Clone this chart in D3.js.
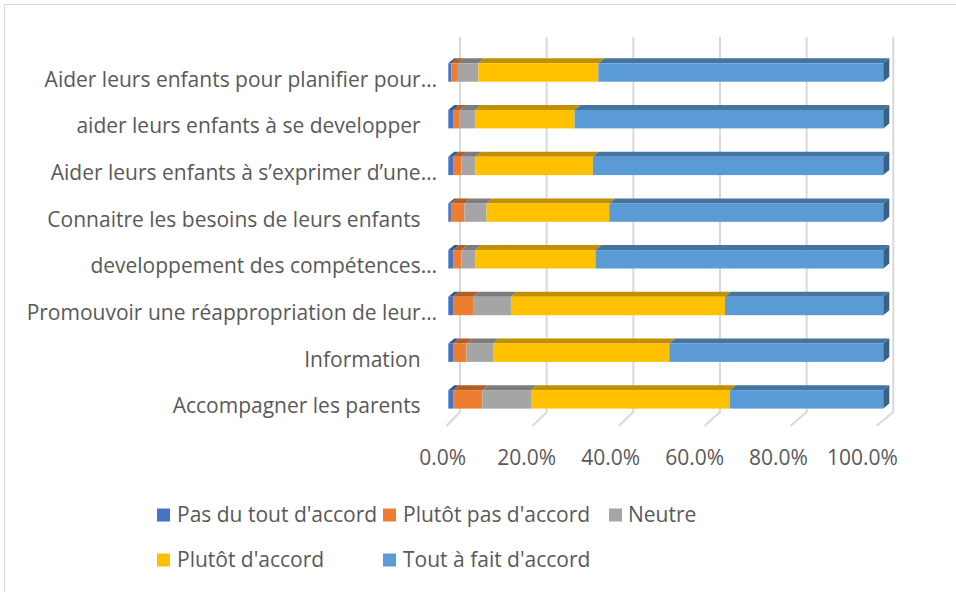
<!DOCTYPE html>
<html>
<head>
<meta charset="utf-8">
<script src="https://cdn.jsdelivr.net/npm/d3@7"></script>
<style>
  body { margin: 0; background: #fff; }
  svg text { font-family: "Open Sans", sans-serif; fill: #595959; }
</style>
</head>
<body>
<script>
// Data (Excel order: first category is drawn at the bottom)
const categories = [
  "Accompagner les parents   ",
  "Information   ",
  "Promouvoir une réappropriation de leur…",
  "developpement des compétences…",
  "Connaitre les besoins de leurs enfants   ",
  "Aider leurs enfants à s’exprimer d’une…",
  "aider leurs enfants à se developper   ",
  "Aider leurs enfants pour planifier pour…"
];
const seriesNames = ["Pas du tout d'accord", "Plutôt pas d'accord", "Neutre", "Plutôt d'accord", "Tout à fait d'accord"];
const pasDuTout    = [1.1, 1.1, 1.1, 1.1, 0.6, 1.1, 1.1, 0.7];
const plutotPas    = [6.7, 3.1, 4.6, 1.9, 3.1, 1.9, 1.5, 1.5];
const neutre       = [11.2, 6.1, 8.7, 3.2, 5.1, 3.2, 3.6, 4.7];
const plutotAccord = [45.7, 40.5, 49.2, 27.6, 28.2, 27.0, 22.8, 27.6];
const toutAFait    = [35.2, 49.2, 36.4, 66.1, 63.0, 66.7, 70.9, 65.5];
const colors = ["#4472C4", "#ED7D31", "#A5A5A5", "#FFC000", "#5B9BD5"];
const tickValues = [0, 0.2, 0.4, 0.6, 0.8, 1];

const width = 956, height = 592;
const depth = {dx: 6, dy: 5};
const barH = 18.4;
const fontSize = "21px";

const svg = d3.select("body").append("svg")
  .attr("width", width).attr("height", height);

// chart area border
svg.append("rect")
  .attr("x", 4.5).attr("y", 4.5).attr("width", 1000).attr("height", 1000)
  .attr("fill", "none").attr("stroke", "#d9d9d9");

// scales (slight perspective: front of bars, back wall, floor edge, labels)
const x = d3.scaleLinear().domain([0, 1]).range([448.3, 883.3]);
const xBack = d3.scaleLinear().domain([0, 1]).range([460, 893.3]);
const xFloor = d3.scaleLinear().domain([0, 1]).range([446.5, 876.5]);
const xLabel = d3.scaleLinear().domain([0, 1]).range([442.7, 862.5]);
const y = d3.scalePoint().domain(categories).range([399.4, 72.5]);

// gridlines on the back wall and floor
const grid = svg.append("g");
grid.selectAll("path")
  .data(tickValues)
  .join("path")
  .attr("d", d => `M${xBack(d)},37 L${xBack(d)},412 L${xFloor(d)},426`)
  .attr("fill", "none")
  .attr("stroke", "#d9d9d9")
  .attr("stroke-width", 2);

// tick labels
svg.append("g").selectAll("text")
  .data(tickValues)
  .join("text")
  .attr("x", d => xLabel(d))
  .attr("y", 465)
  .attr("text-anchor", "middle")
  .style("font-size", fontSize)
  .text(d => d3.format(".1%")(d));

// stacked data
const table = categories.map((c, i) => ({
  cat: c,
  s0: pasDuTout[i], s1: plutotPas[i], s2: neutre[i], s3: plutotAccord[i], s4: toutAFait[i]
}));
const stack = d3.stack().keys(["s0", "s1", "s2", "s3", "s4"]).offset(d3.stackOffsetExpand);
const series = stack(table);

const bars = svg.append("g");
series.forEach((s, si) => {
  const col = colors[si];
  const g = bars.append("g");
  // top face
  g.selectAll(".top")
    .data(s)
    .join("path")
    .attr("class", "top")
    .attr("fill", d3.color(col).darker(0.8))
    .attr("d", d => {
      const x0 = x(d[0]), x1 = x(d[1]), y0 = y(d.data.cat) - barH / 2;
      return `M${x0},${y0} L${x0 + depth.dx},${y0 - depth.dy} L${x1 + depth.dx},${y0 - depth.dy} L${x1},${y0} Z`;
    });
  // front face
  g.selectAll(".front")
    .data(s)
    .join("rect")
    .attr("class", "front")
    .attr("fill", col)
    .attr("x", d => x(d[0]))
    .attr("y", d => y(d.data.cat) - barH / 2)
    .attr("width", d => x(d[1]) - x(d[0]))
    .attr("height", barH);
  // right side only for the last segment
  if (si === series.length - 1) {
    g.selectAll(".side")
      .data(s)
      .join("path")
      .attr("class", "side")
      .attr("fill", d3.color(col).darker(1.3))
      .attr("d", d => {
        const x1 = x(d[1]), y0 = y(d.data.cat) - barH / 2, y1 = y0 + barH;
        return `M${x1},${y0} L${x1 + depth.dx},${y0 - depth.dy} L${x1 + depth.dx},${y1 - depth.dy} L${x1},${y1} Z`;
      });
  }
});

// category labels
svg.append("g").selectAll("text")
  .data(categories)
  .join("text")
  .attr("x", 437)
  .attr("y", d => y(d) + 14)
  .attr("text-anchor", "end")
  .style("font-size", fontSize)
  .style("white-space", "pre")
  .text(d => d);

// legend
const legendItems = seriesNames.map((n, i) => ({name: n, color: colors[i], col: i % 3, row: Math.floor(i / 3)}));
const legend = svg.append("g");
const lg = legend.selectAll("g")
  .data(legendItems)
  .join("g")
  .attr("transform", d => {
    const lx = [157, 383, 609][d.col];
    return `translate(${lx},${d.row === 0 ? 515 : 560})`;
  });
lg.append("rect")
  .attr("x", 0).attr("y", -6.5)
  .attr("width", 13).attr("height", 13)
  .attr("fill", d => d.color);
lg.append("text")
  .attr("x", d => d.name === "Neutre" ? 19 : 20)
  .attr("y", 7)
  .style("font-size", fontSize)
  .text(d => d.name);
</script>
</body>
</html>
